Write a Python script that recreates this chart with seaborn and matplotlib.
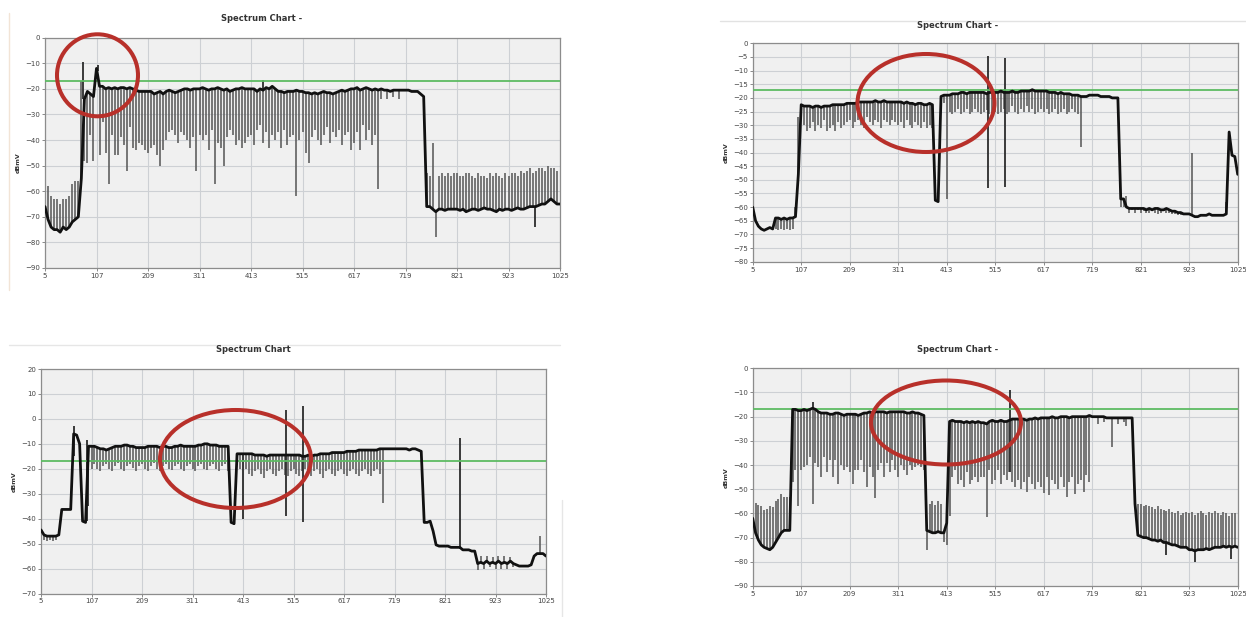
import numpy as np
import pandas as pd
import matplotlib
matplotlib.use("Agg")
import matplotlib.pyplot as plt
import seaborn as sns
from matplotlib.patches import Ellipse
from matplotlib.lines import Line2D
from math import nan

# ---------------- data ----------------
channel_mhz = [
    5, 11, 17, 23, 29, 35, 41, 47, 53, 59, 65, 71, 77, 83, 89, 95, 101,
    107, 113, 119, 125, 131, 137, 143, 149, 155, 161, 167, 173, 179, 185, 191, 197, 203,
    209, 215, 221, 227, 233, 239, 245, 251, 257, 263, 269, 275, 281, 287, 293, 299, 305,
    311, 317, 323, 329, 335, 341, 347, 353, 359, 365, 371, 377, 383, 389, 395, 401, 407,
    413, 419, 425, 431, 437, 443, 449, 455, 461, 467, 473, 479, 485, 491, 497, 503, 509,
    515, 521, 527, 533, 539, 545, 551, 557, 563, 569, 575, 581, 587, 593, 599, 605, 611,
    617, 623, 629, 635, 641, 647, 653, 659, 665, 671, 677, 683, 689, 695, 701, 707, 713,
    719, 725, 731, 737, 743, 749, 755, 761, 767, 773, 779, 785, 791, 797, 803, 809, 815,
    821, 827, 833, 839, 845, 851, 857, 863, 869, 875, 881, 887, 893, 899, 905, 911, 917,
    923, 929, 935, 941, 947, 953, 959, 965, 971, 977, 983, 989, 995, 1001, 1007, 1013, 1019,
    1025]

x_tick_labels = [5, 107, 209, 311, 413, 515, 617, 719, 821, 923, 1025]
threshold_dbmv = -17

# Chart 1 (top left)
c1_top = [
    -66, -71, -74, -75, -75, -76, -74, -75, -74, -72, -71, -70, -55, -24, -21, -22, -23,
    -12, -19, -19, -20, -19.5, -20, -19.5, -20, -19.5, -19.5, -20, -19.5, -20, -20.5, -21, -21, -21,
    -21, -21, -22, -21.5, -21, -22, -21, -20.5, -21, -21.5, -21, -20.5, -20, -20, -20.5, -20, -20,
    -20, -19.5, -20, -20.5, -20, -20, -19.5, -20, -20.5, -20, -21, -20.5, -20, -20, -19.5, -20, -20,
    -20, -20, -21, -20, -20.5, -19.5, -20, -19, -20, -21, -21, -21.5, -21, -21, -21, -20.5, -21,
    -21, -21.5, -21.5, -22, -21.5, -22, -21.5, -21, -21.5, -21.5, -22, -21.5, -21, -20.5, -21, -20.5, -20,
    -20, -19.5, -20.5, -20, -19.5, -20, -20.5, -20, -20.5, -20, -20.5, -20.5, -21, -20.5, -20.5, -20.5, -20.5,
    -20.5, -20.5, -21, -21, -21, -22, -23, -66, -66, -67, -68, -67, -67, -67.5, -67, -67, -67,
    -67, -67.5, -67, -68, -67.5, -67, -67, -67.5, -67, -66.5, -67, -67, -67.5, -68, -67, -67.5, -67,
    -67, -67.5, -67, -66.5, -67, -67, -66.5, -66, -66, -66, -65.5, -65, -65, -64, -63, -64, -65,
    -65]
c1_edge = [
    -56, -58, -62, -63, -63, -65, -63, -63, -62, -57, -56, -56, -17, -48, -49, -38, -48,
    nan, -46, -33, -45, -57, -38, -46, -46, -39, -42, -52, -35, -43, -44, -41, -42, -44,
    -45, -43, -42, -46, -50, -44, -40, -37, -36, -38, -41, -37, -38, -40, -43, -39, -52,
    -38, -40, -38, -44, -36, -57, -41, -43, -50, -39, -36, -38, -42, -40, -43, -41, -39,
    -38, -42, -36, -34, -41, -37, -43, -38, -40, -37, -43, -36, -42, -39, -38, -62, -40,
    -37, -45, -49, -39, -36, -40, -42, -38, -35, -41, -37, -39, -36, -42, -38, -37, -44,
    -41, -37, -44, -34, -40, -36, -42, -38, -59, -24, nan, -24, nan, -23, nan, -24, nan,
    nan, nan, nan, nan, nan, nan, nan, -53, -54, -41, -78, -54, -53, -54, -53, -54, -53,
    -53, -54, -54, -53, -53, -54, -55, -53, -54, -54, -55, -53, -54, -53, -54, -55, -53,
    -54, -53, -53, -54, -52, -53, -52, -51, -53, -52, -51, -51, -52, -50, -51, -51, -52,
    nan]
c1_extra_mhz = [81, 109, 437, 975]
c1_extra_lo = [-24, -13, -20, -74]
c1_extra_hi = [-9.5, -10.5, -16.5, -66]

# Chart 2 (top right)
c2_top = [
    -60, -65, -67, -68, -68.5, -68, -67.5, -68, -64, -64, -64.5, -64, -64.5, -64, -64, -63.5, -48,
    -22.5, -23, -23, -23, -23.5, -23, -23, -23.5, -23, -23, -23, -22.5, -22.5, -22.5, -22.5, -22.5, -22,
    -22, -22, -22, -21.5, -21.5, -21.5, -21.5, -21.5, -21.5, -21, -21.5, -21.5, -21, -21.5, -21.5, -21.5, -21.5,
    -21.5, -21.5, -22, -21.5, -22, -22, -22.5, -22, -22, -22.5, -22.5, -22, -22.5, -57.5, -58, -19.5, -19,
    -19, -19, -18.5, -18.5, -18.5, -18, -18, -18.5, -18, -18, -18, -18, -18, -18, -18.5, -18, -18,
    -18, -18, -17.5, -18, -18, -18, -17.5, -18, -18, -17.5, -17.5, -17.5, -17.5, -17, -17.5, -17.5, -17.5,
    -17.5, -17.5, -18, -18, -18, -18.5, -18, -18.5, -18.5, -18.5, -19, -19, -19, -19.5, -19.5, -19.5, -19,
    -19, -19, -19, -19.5, -19.5, -19.5, -19.5, -20, -20, -20, -57, -57, -60, -60.5, -60.5, -60.5, -60.5,
    -60.5, -60.5, -61, -60.5, -61, -60.5, -60.5, -61, -61, -60.5, -61, -61.5, -61.5, -62, -62, -62.5, -62.5,
    -62.5, -63, -63.5, -63.5, -63, -63, -63, -62.5, -63, -63, -63, -63, -63, -62.5, -32.5, -41, -41.5,
    -48]
c2_edge = [
    nan, nan, nan, nan, nan, nan, nan, nan, -68, -68.5, -68, -68.5, -68, -68.5, -68, -60, -27,
    -26, -30, -32, -31, -29, -32, -30, -31, -28, -32, -31, -30, -32, -29, -31, -30, -29,
    -28, -31, -29, -28, -30, -31, -27, -29, -30, -28, -29, -31, -28, -29, -30, -28, -29,
    -30, -29, -31, -28, -30, -31, -29, -30, -31, -29, -31, -30, -31, nan, nan, nan, -22,
    -57, -25, -26, -25, -24, -26, -25, -24, -26, -25, -24, -25, -26, -25, -24.5, -26, -26,
    -25, -26, -25, -24, -26, -25, -23, -25, -26, -24, -25, -23, -25, -24, -26, -25, -24,
    -25, -24, -26, -25, -24, -26, -25, -24, -26, -25, -24, -25, -26, -38, nan, nan, nan,
    nan, nan, nan, nan, nan, nan, nan, nan, nan, nan, -60, -60, -56, -62, -61, -62, -61,
    -62, -61.5, -62, -62, -61.5, -62, -62.5, -62, -61.5, -62, -62, -62.5, -62.5, -63, -63, -63, -63,
    nan, -40, nan, nan, nan, nan, nan, nan, nan, nan, nan, nan, nan, -58, nan, nan, nan,
    nan]
c2_extra_mhz = [500, 535]
c2_extra_lo = [-53, -52.5]
c2_extra_hi = [-4.5, -5.5]

# Chart 3 (bottom left)
c3_top = [
    -44.5, -46.5, -47, -47, -47, -47, -46.5, -36.3, -36.3, -36.3, -36.3, -6, -6.5, -10, -41, -41.5, -11,
    -11, -11, -11.5, -12, -12, -12.5, -12, -11.5, -11, -11, -11, -10.5, -10.5, -11, -11, -11.5, -11.5,
    -11.5, -11.5, -11, -11, -11, -11, -11.5, -11, -11, -11.5, -11.5, -11, -11, -10.5, -11, -11, -11,
    -11, -11, -10.5, -10.5, -10, -10, -10.5, -10.5, -10.5, -11, -11, -11, -11, -41.5, -42, -14, -14,
    -14, -14, -14, -14, -14.5, -14.5, -14.5, -14.5, -15, -14.5, -14.5, -14.5, -14.5, -14.5, -14.5, -14.5, -14.5,
    -14.5, -14.5, -14.5, -15, -15, -14.5, -15, -14.5, -14.5, -14, -14, -14, -14, -13.5, -13.5, -13.5, -13.5,
    -13.5, -13, -13, -13, -13, -12.5, -12.5, -12.5, -12.5, -12.5, -12.5, -12.5, -12, -12, -12, -12, -12,
    -12, -12, -12, -12, -12, -12.5, -12, -12, -12.5, -13, -41.5, -41.5, -41, -45, -50.5, -51, -51,
    -51, -51, -51.5, -51.5, -51.5, -51.5, -52.5, -52.5, -52.5, -53, -53, -58, -57.5, -58, -57, -58, -57.5,
    -58, -57, -58, -57.5, -58, -57, -58, -58.5, -59, -59, -59, -59, -58.5, -55, -54, -54, -54,
    -55]
c3_edge = [
    nan, -48.5, -49, -48.5, -49, -48.5, nan, nan, nan, nan, nan, nan, nan, nan, nan, nan, nan,
    -20, -18, -20, -21, -19, -18, -20, -21, -19, -17.5, -20, -21, -19, -18, -19.5, -21, -19,
    -18, -20, -21, -19, -17.5, -20, -21, -19, -18, -20, -20.5, -19, -18, -20, -21, -19, -18,
    -20, -21, -19, -18, -20, -20.5, -19, -18, -20, -21, -19, -18, -21, nan, -42.5, nan, -20,
    nan, -20, -22, -23, -21, -20, -22, -23.5, -21, -20, -22, -23, -21, -20, -22.5, -23, -21,
    -20, -22, -23, -21, -20, -22.5, -23, -21, -20, -22, -23.5, -21, -20, -22, -23, -21, -20,
    -22, -23, -21, -20, -22, -23, -21, -20, -22, -23, -21, -20, -22, -33.7, nan, nan, nan,
    nan, nan, nan, nan, nan, nan, nan, nan, nan, nan, nan, nan, nan, nan, nan, nan, nan,
    nan, nan, nan, nan, nan, nan, nan, nan, nan, nan, nan, -60.5, -55, -60, -55, -59.5, -55.5,
    -60, -55, -60, -55, -60, -55.5, -59.5, nan, nan, nan, nan, nan, nan, nan, nan, -47, nan,
    nan]
c3_extra_mhz = [72, 98, 100, 413, 499, 534, 852]
c3_extra_lo = [-15, -41, -35, -40.3, -39, -41.4, -52]
c3_extra_hi = [-3, -8.4, -11, -14, 3.6, 5, -7.7]

# Chart 4 (bottom right)
c4_top = [
    -62, -68, -71, -73, -74, -74.5, -75, -74, -72, -70, -68, -67, -67, -67, -17, -17, -17.5,
    -17.5, -17, -17.5, -17, -16.5, -17, -18, -18.5, -18.5, -18.5, -19, -19, -18.5, -18.5, -19, -19.5, -19,
    -19, -19, -19, -19.5, -19, -18.5, -18.5, -18, -18.5, -18, -18, -18, -18, -18.5, -18, -18, -18,
    -18, -18, -18, -18.5, -18.5, -18, -18.5, -18.5, -19, -19.5, -67, -67.5, -68, -68, -67.5, -68, -68,
    -64, -22, -21.5, -22, -22, -22, -22.5, -22, -22.5, -22, -22.5, -22, -22.5, -22.5, -23, -22, -21.5,
    -22, -22, -21.5, -22, -22, -21.5, -21, -21, -21, -21, -21, -21.5, -21, -21, -20.5, -21, -20.5,
    -20.5, -20.5, -20.5, -20, -20.5, -20.5, -20, -20, -20, -20.5, -20, -20, -20, -20, -20, -20, -19.5,
    -20, -20, -20, -20, -20, -20.5, -20.5, -20.5, -20.5, -20.5, -20.5, -20.5, -20.5, -20.5, -20.5, -56, -69,
    -69.5, -70, -70, -70.5, -71, -71, -71.5, -71, -72, -72, -72.5, -73, -73, -73.5, -74, -74, -74,
    -75, -75, -75.5, -75, -75, -75, -74.5, -75, -74.5, -74, -74, -74, -73.5, -74, -73.5, -74, -73.5,
    -74]
c4_edge = [
    -54, -55.5, -56.5, -57, -58.5, -58, -57, -57.5, -55, -54, -52, -53, -53, -53, -47, -42, -57,
    -42, -41, -40, -36.5, -56, -39, -41, -44.8, -36.5, -43, -38, -44.8, -38, -48, -40, -42, -41,
    -43, -48, -42, -42, -38, -43, -49, -41, -45, -53.7, -42, -39, -45, -39, -43, -38, -42,
    -44.8, -40, -42, -44, -40, -42, -41, -40, -41, -42, -75, -56, -55, -56.5, -55, -56, -72,
    -73, -61, -44.8, -42, -48, -46, -49, -43, -48, -46, -44.8, -47, -45, -45, -61.3, -42, -48,
    -46, -42, -48, -44, -46, -43, -47, -49, -46, -50, -47, -51, -45, -48, -50, -47, -49,
    -51.5, -45, -52.4, -46, -48, -50, -44.8, -49, -53, -47, -45, -52, -48, -46, -51, -44, -47,
    nan, nan, -23, nan, -22, nan, nan, -32.4, nan, -23, nan, -22, -24, nan, -23, -54, -56,
    -56, -57, -56.5, -57, -57.5, -58, -57, -58, -58.5, -59, -58, -59.5, -60, -59, -60.5, -60, -59.5,
    -60, -59.5, -60.5, -60, -59, -60, -60.5, -59.5, -60, -59, -60, -60.5, -59.5, -60, -61, -60, -60,
    nan]
c4_extra_mhz = [132, 546, 875, 935, 1011]
c4_extra_lo = [-17, -43, -77, -80, -79]
c4_extra_hi = [-13.8, -9, -72, -75, -74]

for arr in (c1_top, c1_edge, c2_top, c2_edge, c3_top, c3_edge, c4_top, c4_edge):
    assert len(arr) == len(channel_mhz), len(arr)

# ---------------- style ----------------
sns.set_style("whitegrid", {"axes.facecolor": "#F0F0F0", "grid.color": "#CDD0D4",
                            "axes.edgecolor": "#8C8C8C"})
plt.rcParams['font.family'] = ['DejaVu Sans']

W, H = 1246, 617
fig = plt.figure(figsize=(W / 100, H / 100), dpi=100)
fig.patch.set_facecolor("white")

panels = [
    dict(top=c1_top, edge=c1_edge, ex=(c1_extra_mhz, c1_extra_lo, c1_extra_hi),
         ylim=(-90, 0), ystep=10, title="Spectrum Chart -",
         rect=(45, 37.7, 560, 268), title_xy=(262, 18.5), ylab_xy=(21, 163),
         ell=(97.5, 75.3, 40.5, 41)),
    dict(top=c2_top, edge=c2_edge, ex=(c2_extra_mhz, c2_extra_lo, c2_extra_hi),
         ylim=(-80, 0), ystep=5, title="Spectrum Chart -",
         rect=(752.7, 43.3, 1237.7, 261.7), title_xy=(958, 25), ylab_xy=(729, 153),
         ell=(926, 103, 68.5, 49)),
    dict(top=c3_top, edge=c3_edge, ex=(c3_extra_mhz, c3_extra_lo, c3_extra_hi),
         ylim=(-70, 20), ystep=10, title="Spectrum Chart",
         rect=(41, 369, 546, 593.5), title_xy=(253, 349.5), ylab_xy=(17, 482),
         ell=(235.5, 459, 75.5, 49)),
    dict(top=c4_top, edge=c4_edge, ex=(c4_extra_mhz, c4_extra_lo, c4_extra_hi),
         ylim=(-90, 0), ystep=10, title="Spectrum Chart -",
         rect=(752.7, 368.3, 1237.7, 586), title_xy=(958, 349.5), ylab_xy=(729, 478),
         ell=(946, 422.5, 75, 42)),
]

freq = np.array(channel_mhz, dtype=float)

for p in panels:
    l, t, r, b = p["rect"]
    ax = fig.add_axes([l / W, 1 - b / H, (r - l) / W, (b - t) / H])
    top = np.array(p["top"], dtype=float)
    edge = np.array(p["edge"], dtype=float)
    m = ~np.isnan(edge)
    ax.vlines(freq[m], np.minimum(top[m], edge[m]), np.maximum(top[m], edge[m]),
              color="#5A5A5A", lw=1.15, zorder=2)
    exf, exlo, exhi = p["ex"]
    ax.vlines(exf, exlo, exhi, color="#2B2B2B", lw=1.3, zorder=2)
    ax.axhline(threshold_dbmv, color="#5DBB63", lw=1.3, zorder=3)
    df = pd.DataFrame({"MHz": channel_mhz, "dBmV": p["top"]})
    sns.lineplot(data=df, x="MHz", y="dBmV", ax=ax, color="#111111", lw=2.0,
                 estimator=None, sort=False, zorder=4)
    ax.set_xlim(5, 1025)
    ax.set_ylim(*p["ylim"])
    ax.set_xticks(x_tick_labels)
    ax.set_yticks(np.arange(p["ylim"][0], p["ylim"][1] + 1, p["ystep"]))
    ax.tick_params(axis="both", labelsize=5, length=2, width=0.6, color="#777777",
                   labelcolor="#444444", pad=1.5, bottom=True, left=True)
    ax.grid(True, color="#CDD0D4", lw=0.8)
    for s in ax.spines.values():
        s.set_color("#8C8C8C")
        s.set_linewidth(0.9)
    ax.set_xlabel("")
    ax.set_ylabel("dBmV", fontsize=4.5, fontweight="bold", color="#333333")
    lx, ly = p["ylab_xy"]
    ax.yaxis.set_label_coords((lx - l) / (r - l), (b - ly) / (b - t))
    tx, ty = p["title_xy"]
    fig.text(tx / W, 1 - ty / H, p["title"], ha="center", va="center",
             fontsize=6, fontweight="bold", color="#333333")
    cx, cy, hw, hh = p["ell"]
    fig.add_artist(Ellipse((cx / W, 1 - cy / H), 2 * hw / W, 2 * hh / H,
                           transform=fig.transFigure, fill=False,
                           ec="#B8302A", lw=2.9, zorder=10))

# faint panel border lines of the original screenshots
for (x0, y0, x1, y1, c) in [(720, 20.7, 1246, 20.7, "#E2E2E2"),
                            (9, 345, 560, 345, "#E6E6E6"),
                            (9.3, 13, 9.3, 290, "#F2E4D6"),
                            (562, 500, 562, 617, "#E6E6E6")]:
    fig.add_artist(Line2D([x0 / W, x1 / W], [1 - y0 / H, 1 - y1 / H],
                          transform=fig.transFigure, color=c, lw=1.0))

fig.savefig("out.png", dpi=100, facecolor="white")
